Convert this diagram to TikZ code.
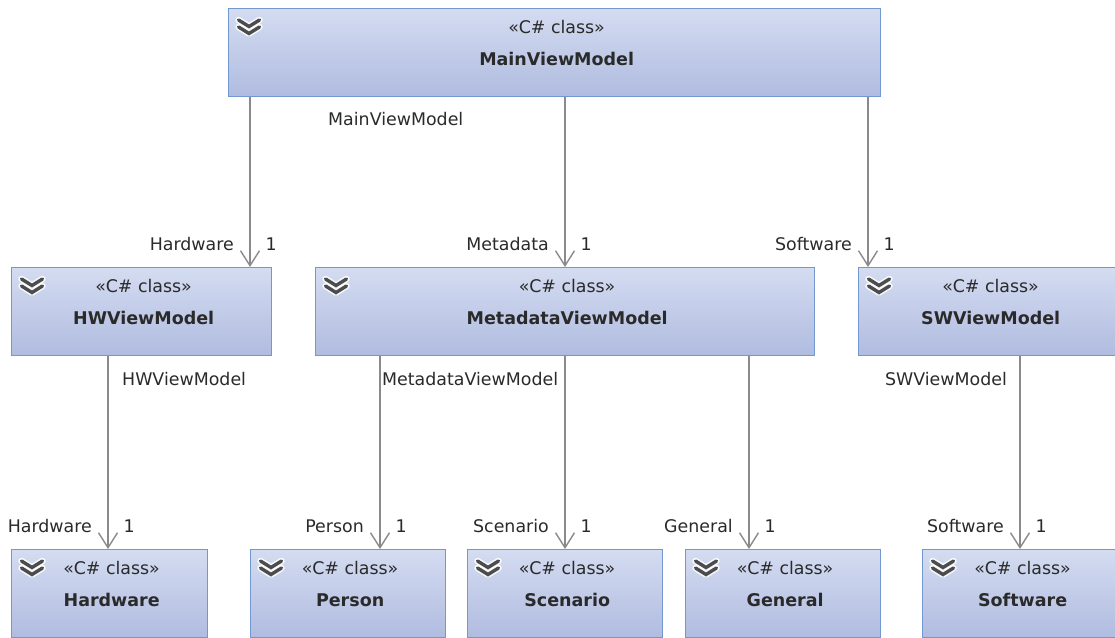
\documentclass[tikz,border=0pt]{standalone}
\usepackage{fontspec}
\setmainfont{DejaVu Sans}
\usetikzlibrary{arrows.meta,calc}

\definecolor{boxtop}{HTML}{D4DCF1}
\definecolor{boxbot}{HTML}{B0BCE0}
\definecolor{boxedge}{HTML}{7397D0}
\definecolor{wire}{HTML}{8A8A8A}
\definecolor{ink}{HTML}{2A2A2A}
\definecolor{chev}{HTML}{4C4C4C}

\tikzset{
  classbox/.style={draw=boxedge, line width=1.3pt, top color=boxtop,
    bottom color=boxbot, anchor=north west, inner sep=0pt,
    minimum height=88pt},
  stereo/.style={font=\fontsize{17.4}{20}\selectfont, text=ink,
    anchor=base, inner sep=0pt},
  cname/.style={font=\fontsize{17.5}{20}\selectfont\bfseries, text=ink,
    anchor=base, inner sep=0pt},
  assoc/.style={draw=wire, line width=1.4pt,
    -{Straight Barb[length=15pt,width=19pt,line width=1.4pt]}},
  endlabel/.style={font=\fontsize{17.4}{20}\selectfont, text=ink, inner sep=0pt},
}

% collapse chevrons in the upper-left corner of a class box
\newcommand\classicon[1]{%
  \foreach \dy in {0,7}{
    \draw[white, line width=6.5pt, line cap=round, line join=round, opacity=.85]
      ($(#1.north west)+(10.5,{12+\dy})$) -- ++(10.5,6.5) -- ++(10.5,-6.5);
  }
  \foreach \dy in {0,7}{
    \draw[chev, line width=3.4pt, line cap=round, line join=miter]
      ($(#1.north west)+(10.5,{12+\dy})$) -- ++(10.5,6.5) -- ++(10.5,-6.5);
  }}

% a C# class: box, icon, stereotype and name
\newcommand\csclass[5]{% name, x, y, width, title
  \node[classbox, minimum width=#4pt] (#1) at (#2,#3) {};
  \classicon{#1}
  \node[stereo] (#1-st) at ($(#1.north)+(2,25)$) {«C\# class»};
  \node[cname] (#1-nm) at ($(#1.north)+(2,57)$) {#5};
}

\begin{document}
\begin{tikzpicture}[x=1pt, y=-1pt]
  \path[use as bounding box] (0,0) rectangle (1115,637);
  \clip (0,0) rectangle (1115,637);

  % classes
  \csclass{main}{228}{8}{652}{MainViewModel}
  \csclass{hw}{11}{267}{260}{HWViewModel}
  \csclass{meta}{315}{267}{499}{MetadataViewModel}
  \csclass{sw}{858}{267}{260}{SWViewModel}
  \csclass{hard}{11}{549}{196}{Hardware}
  \csclass{person}{250}{549}{195}{Person}
  \csclass{scen}{467}{549}{195}{Scenario}
  \csclass{gen}{685}{549}{195}{General}
  \csclass{soft}{922}{549}{196}{Software}

  % x positions of the association lines
  \coordinate (xhw) at (250,0);
  \coordinate (xmeta) at (565,0);
  \coordinate (xsw) at (868,0);
  \coordinate (xhard) at (108,0);
  \coordinate (xperson) at (380,0);
  \coordinate (xscen) at (565,0);
  \coordinate (xgen) at (749,0);
  \coordinate (xsoft) at (1020,0);

  % associations
  \draw[assoc] (main.south -| xhw) -- (hw.north -| xhw);
  \draw[assoc] (main.south -| xmeta) -- (meta.north -| xmeta);
  \draw[assoc] (main.south -| xsw) -- (sw.north -| xsw);
  \draw[assoc] (hw.south -| xhard) -- (hard.north -| xhard);
  \draw[assoc] (meta.south -| xperson) -- (person.north -| xperson);
  \draw[assoc] (meta.south -| xscen) -- (scen.north -| xscen);
  \draw[assoc] (meta.south -| xgen) -- (gen.north -| xgen);
  \draw[assoc] (sw.south -| xsoft) -- (soft.north -| xsoft);

  % source role names
  \node[endlabel, anchor=base west] (l-main) at ($(main.south west)+(100,28)$) {MainViewModel};
  \node[endlabel, anchor=base west] (l-hw) at ($(hw.south west)+(111,29)$) {HWViewModel};
  \node[endlabel, anchor=base west] (l-meta) at ($(meta.south west)+(67,29)$) {MetadataViewModel};
  \node[endlabel, anchor=base east] (l-sw) at ($(sw.south west)+(149,29)$) {SWViewModel};

  % target role names and multiplicities
  \foreach \tgt/\xx/\role in {hw/xhw/Hardware, meta/xmeta/Metadata, sw/xsw/Software,
      hard/xhard/Hardware, person/xperson/Person, scen/xscen/Scenario,
      gen/xgen/General, soft/xsoft/Software}{
    \node[endlabel, anchor=base east] (r-\tgt) at ($(\tgt.north -| \xx)+(-16,-17)$) {\role};
    \node[endlabel, anchor=base west] (m-\tgt) at ($(\tgt.north -| \xx)+(15.5,-17)$) {1};
  }
\end{tikzpicture}
\end{document}
